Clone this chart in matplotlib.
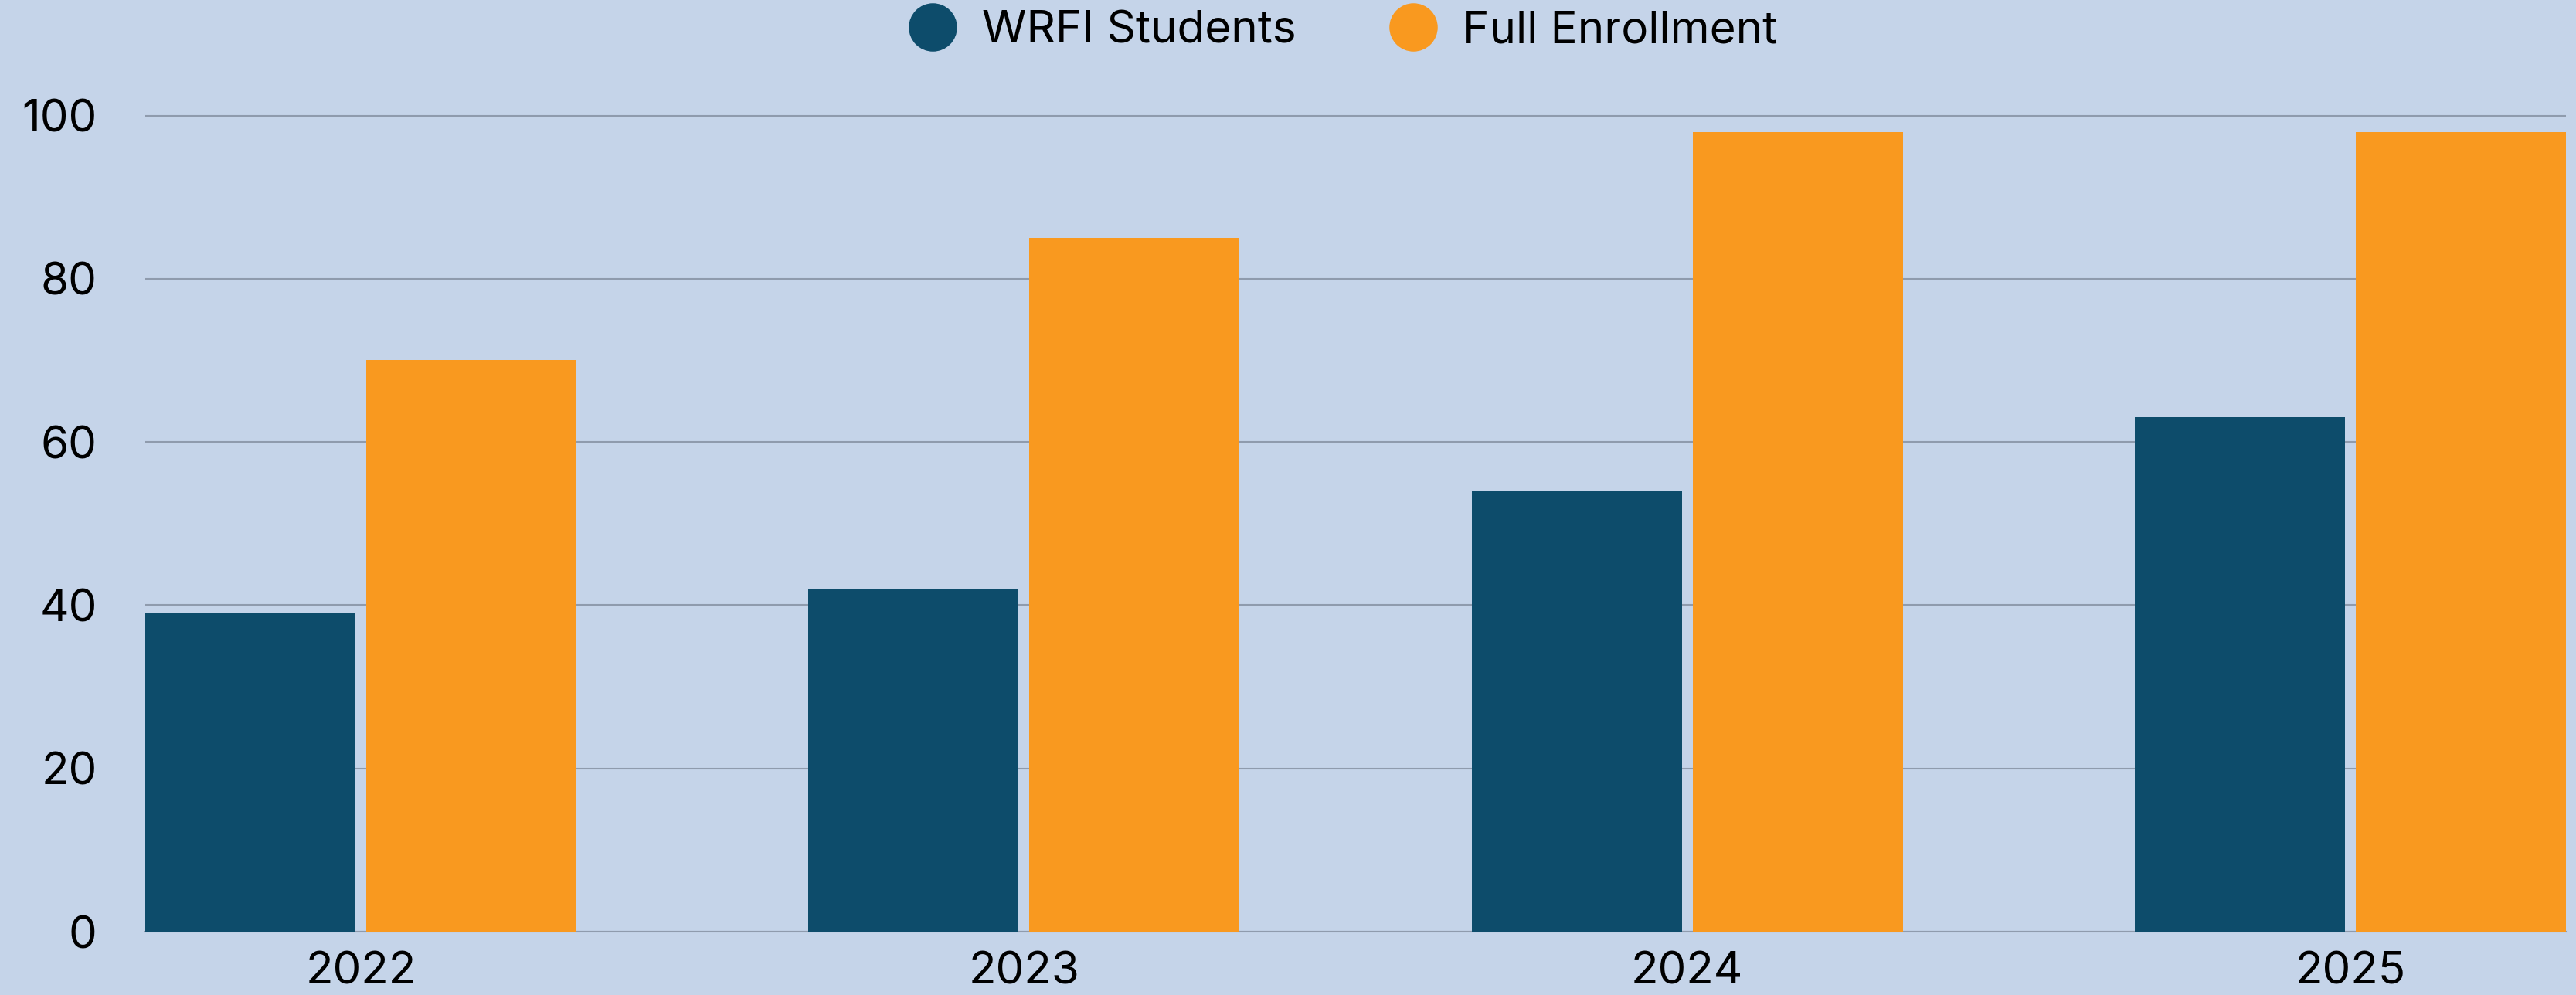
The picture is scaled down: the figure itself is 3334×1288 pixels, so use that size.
import matplotlib.pyplot as plt
from matplotlib.lines import Line2D
import numpy as np

plt.rcParams['font.family'] = ['Inter', 'DejaVu Sans']

## Chart data
years = ["2022", "2023", "2024", "2025"]
wrfi_students = [39, 42, 54, 63]
full_enrollment = [70, 85, 98, 98]
y_ticks = [0, 20, 40, 60, 80, 100]

navy = "#0D4C6B"
orange = "#F9991F"
bg = "#C5D4E9"
grid_col = "#8F9BAD"

fig = plt.figure(figsize=(33.34, 12.88), dpi=100, facecolor=bg)
ax = fig.add_axes([188/3334, 82/1288, (3321-188)/3334, (1206-139)/1288])
ax.set_facecolor(bg)

x = np.arange(len(years))
width = 0.3168
offset = 0.1666
ax.bar(x - offset, wrfi_students, width, color=navy, zorder=3)
ax.bar(x + offset, full_enrollment, width, color=orange, zorder=3)

ax.set_xlim(-0.325, len(years) - 1 + 0.325)
ax.set_ylim(0, 101)
ax.set_yticks(y_ticks)
ax.set_xticks(x)
ax.set_xticklabels(years)
ax.yaxis.grid(True, color=grid_col, linewidth=1.5, zorder=0)
ax.tick_params(axis='both', length=0, labelsize=42, labelcolor="black")
ax.tick_params(axis='y', pad=45)
ax.tick_params(axis='x', pad=18)
for s in ["top", "right", "left"]:
    ax.spines[s].set_visible(False)
ax.spines["bottom"].set_color(grid_col)
ax.spines["bottom"].set_linewidth(1.5)

handles = [Line2D([], [], marker='o', linestyle='none', markersize=44, color=navy),
           Line2D([], [], marker='o', linestyle='none', markersize=44, color=orange)]
fig.legend(handles, ["WRFI Students", "Full Enrollment"], loc='center',
           bbox_to_anchor=(1739/3334, 1 - 40/1288), ncol=2, frameon=False,
           fontsize=42, handlelength=1.0, handletextpad=0.6, columnspacing=2.1)

fig.savefig("out.png", dpi=100, facecolor=bg)
